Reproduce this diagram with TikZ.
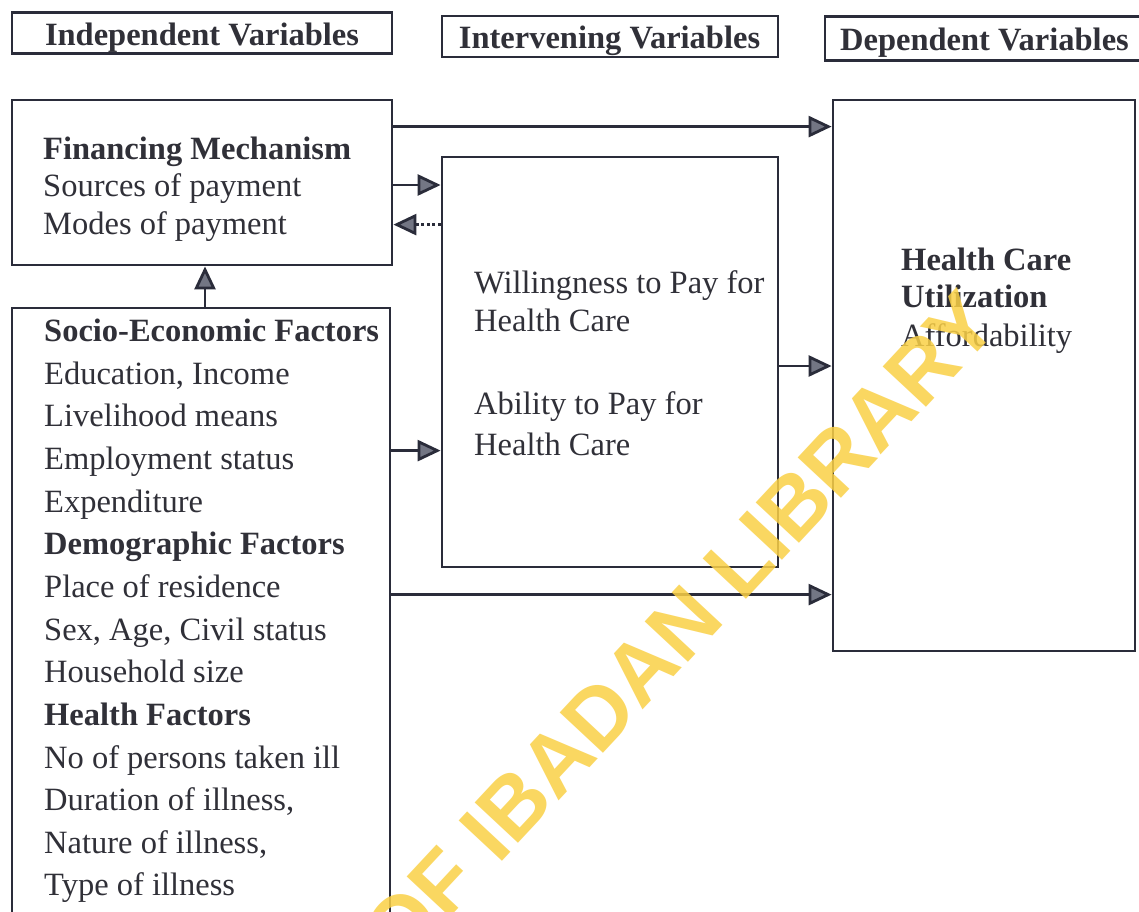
\documentclass[tikz,border=0pt]{standalone}
\usepackage{fontspec}
\setmainfont{Liberation Serif}
\newfontfamily\wmfont{Liberation Sans}
\usetikzlibrary{arrows.meta,calc}
\definecolor{ink}{RGB}{42,44,58}
\definecolor{txt}{RGB}{48,48,56}
\definecolor{tipgray}{RGB}{115,118,132}
\definecolor{wmyellow}{RGB}{250,208,70}
\tikzset{
  box/.style={draw=ink, line width=2.8pt, inner sep=0pt, rectangle},
  txtl/.style={anchor=base west, inner sep=0pt, text=txt, font=\fontsize{32.5}{40}\selectfont},
  hd/.style={anchor=base, inner sep=0pt, text=txt, font=\fontsize{32.5}{40}\selectfont\bfseries},
  arr/.style={draw=ink, line width=2.8pt, -{Triangle[length=23pt,width=21pt,fill=tipgray]}},
  dotarr/.style={arr, dash pattern=on 3pt off 2.5pt},
  wm/.style={anchor=base west, inner sep=0pt, text=wmyellow, opacity=0.85, font=\wmfont\bfseries\fontsize{86}{86}\selectfont}
}
\begin{document}
\begin{tikzpicture}[x=1pt,y=-1pt]
\clip (0,0) rectangle (1139,911);
\fill[white] (0,0) rectangle (1139,911);
% header boxes
\node[box, minimum width=380pt, minimum height=41pt] (h1) at (202,33) {};
\node[box, minimum width=336pt, minimum height=41pt] (h2) at (610,36.5) {};
\node[box, minimum width=320pt, minimum height=44pt] (h3) at (985,38.5) {};
\node[hd] (h1t) at (202,45) {Independent Variables};
\node[hd] (h2t) at (609.5,48.5) {Intervening Variables};
\node[hd] (h3t) at (984.5,50.5) {Dependent Variables};
% main boxes
\node[box, minimum width=380pt, minimum height=165pt] (fin) at (202,182.5) {};
\node[box, minimum width=378pt, minimum height=622pt] (soc) at (201,619) {};
\node[box, minimum width=336pt, minimum height=410pt] (mid) at (610,362) {};
\node[box, minimum width=302pt, minimum height=551pt] (dep) at (984,375.5) {};
% financing text
\node[txtl] (f1) at (43,159) {\textbf{Financing Mechanism}};
\node[txtl] (f2) at (43,196.5) {Sources of payment};
\node[txtl] (f3) at (43,234) {Modes of payment};
% socio text
\node[txtl] (s0) at (44,341.5) {\textbf{Socio-Economic Factors}};
\node[txtl] (s1) at (44,384.15) {Education, Income};
\node[txtl] (s2) at (44,426.8) {Livelihood means};
\node[txtl] (s3) at (44,469.45) {Employment status};
\node[txtl] (s4) at (44,512.1) {Expenditure};
\node[txtl] (s5) at (44,554.75) {\textbf{Demographic Factors}};
\node[txtl] (s6) at (44,597.4) {Place of residence};
\node[txtl] (s7) at (44,640.05) {Sex, Age, Civil status};
\node[txtl] (s8) at (44,682.7) {Household size};
\node[txtl] (s9) at (44,725.35) {\textbf{Health Factors}};
\node[txtl] (s10) at (44,768) {No of persons taken ill};
\node[txtl] (s11) at (44,810.65) {Duration of illness,};
\node[txtl] (s12) at (44,853.3) {Nature of illness,};
\node[txtl] (s13) at (44,895.95) {Type of illness};
% middle text
\node[txtl] (m1) at (474,293.5) {Willingness to Pay for};
\node[txtl] (m2) at (474,331) {Health Care};
\node[txtl] (m3) at (474,414) {Ability to Pay for};
\node[txtl] (m4) at (474,455) {Health Care};
% dependent text
\node[txtl] (d1) at (901,270) {\textbf{Health Care}};
\node[txtl] (d2) at (901,307.5) {\textbf{Utilization}};
\node[txtl] (d3) at (901,346.5) {Affordability};
% connectors
\coordinate (fa) at ([yshift=-28pt]fin.north east);
\draw[arr] (fa) -- (fa -| dep.west);
\coordinate (fb) at ([yshift=-2.5pt]fin.east);
\draw[arr] (fb) -- (fb -| mid.west);
\coordinate (ma) at ([yshift=-69pt]mid.north west);
\draw[dotarr] (ma) -- (ma -| fin.east);
\coordinate (sa) at ([xshift=4pt]soc.north);
\draw[arr] (sa) -- (sa |- fin.south);
\coordinate (sb) at ([yshift=-144pt]soc.north east);
\draw[arr] (sb) -- (sb -| mid.west);
\coordinate (mb) at ([yshift=-4pt]mid.east);
\draw[arr] (mb) -- (mb -| dep.west);
\coordinate (sc) at ([yshift=-288pt]soc.north east);
\draw[arr] (sc) -- (sc -| dep.west);
% watermark
\node[wm, rotate=47] (wmk) at (400.7,970.3) {OF IBADAN LIBRARY};
\end{tikzpicture}
\end{document}
